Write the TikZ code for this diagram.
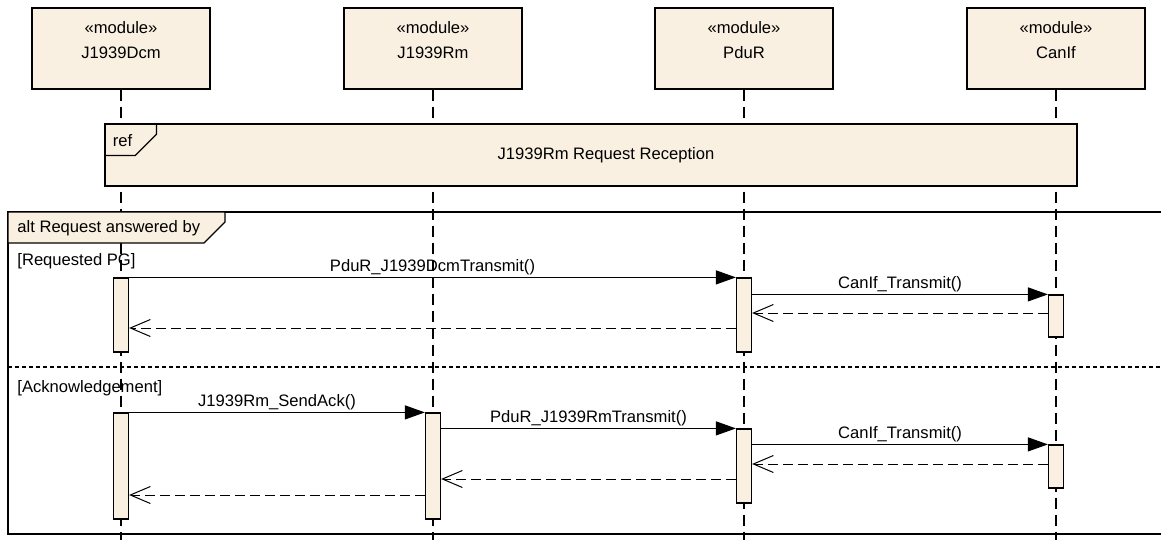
\documentclass[tikz,border=0pt]{standalone}
\usepackage{fontspec}
\setmainfont{Liberation Sans}
\usetikzlibrary{
    arrows.meta,
    positioning,
    calc
}
\definecolor{umlfill}{HTML}{FAF0E1}

\begin{document}
\begin{tikzpicture}[
    x=0.5pt, y=-0.5pt,
    font=\fontsize{8.3}{12.5}\selectfont,
    module/.style={rectangle, minimum width=89pt, minimum height=40.5pt,
                   draw=black, fill=umlfill, line width=0.6pt},
    modlabel/.style={align=center, inner sep=2pt},
    lifeline/.style={line width=0.6pt, dash pattern=on 5.5pt off 3pt},
    actbar/.style={rectangle, minimum width=7.5pt, inner sep=0pt,
                   draw=black, fill=umlfill, line width=0.6pt},
    frame/.style={draw=black, line width=0.6pt},
    separator/.style={line width=0.6pt, dash pattern=on 2pt off 1.5pt},
    guard/.style={anchor=west, inner sep=1pt},
    msg/.style={line width=0.5pt, -{Triangle[length=10pt, width=7pt]}},
    reply/.style={line width=0.5pt, dash pattern=on 5pt off 2.5pt,
                  -{Straight Barb[length=10pt, width=8.5pt]}},
    msglabel/.style={above, inner sep=1pt}
]

    \useasboundingbox (0,0) rectangle (1161,540);
    \coordinate (bottom) at (0,540);

    % Modules and lifelines
    \foreach \name/\txt/\x in {dcm/J1939Dcm/121, rm/J1939Rm/433, pdur/PduR/744, canif/CanIf/1056} {
        \node (\name) [module] at (\x,48.5) {};
        \node (\name lbl) [modlabel, below=4.6pt of \name.north] {«module»\\\txt};
        \draw [lifeline] (\name.south) -- (\name.south |- bottom);
    }

    % Ref frame
    \node (refbox) [frame, fill=umlfill, minimum width=486pt, minimum height=31pt, inner sep=0pt]
        at (591,155) {};
    \node (refttl) at ($(refbox.center)+(15,0)$) {J1939Rm Request Reception};
    \draw [frame] (refbox.north west) ++(52,0) -- ++(0,11) -- ++(-21,21) -- ++(-31,0);
    \node (reftag) [guard] at ($(refbox.north west)+(6,17)$) {ref};

    % Alt frame
    \draw [frame] (1163,212) -- (8,212) -- (8,534) -- (1163,534);
    \draw [frame, fill=umlfill] (8,212) -- (225,212) -- (225,222) -- (204,243) -- (8,243) -- cycle;
    \node (alttag) [guard] at (15,228) {alt Request answered by};
    \node (guard1) [guard] at (15,261) {[Requested PG]};
    \draw [separator] (8,367) -- (1163,367);
    \node (guard2) [guard] at (15,388) {[Acknowledgement]};

    % Activations
    \node (dcmAct1) [actbar, minimum height=37pt] at (dcm |- 0,315) {};
    \node (pdurAct1) [actbar, minimum height=37pt] at (pdur |- 0,315) {};
    \node (canifAct1) [actbar, minimum height=21pt] at (canif |- 0,316) {};
    \node (dcmAct2) [actbar, minimum height=53pt] at (dcm |- 0,466) {};
    \node (rmAct) [actbar, minimum height=53pt] at (rm |- 0,466) {};
    \node (pdurAct2) [actbar, minimum height=37pt] at (pdur |- 0,466) {};
    \node (canifAct2) [actbar, minimum height=21.5pt] at (canif |- 0,466.5) {};

    % Messages
    \draw [msg] (dcmAct1.north east) -- node [msglabel] {PduR\_J1939DcmTransmit()} (pdurAct1.north west);
    \draw [msg] (pdurAct1.east |- canifAct1.north) -- node [msglabel] {CanIf\_Transmit()} (canifAct1.north west);
    \draw [reply] (canifAct1.west |- 0,313) -- (pdurAct1.east |- 0,313);
    \draw [reply] (pdurAct1.west |- 0,328) -- (dcmAct1.east |- 0,328);

    \draw [msg] (dcmAct2.north east) -- node [msglabel] {J1939Rm\_SendAck()} (rmAct.north west);
    \draw [msg] (rmAct.east |- pdurAct2.north) -- node [msglabel] {PduR\_J1939RmTransmit()} (pdurAct2.north west);
    \draw [msg] (pdurAct2.east |- canifAct2.north) -- node [msglabel] {CanIf\_Transmit()} (canifAct2.north west);
    \draw [reply] (canifAct2.west |- 0,464) -- (pdurAct2.east |- 0,464);
    \draw [reply] (pdurAct2.west |- 0,479) -- (rmAct.east |- 0,479);
    \draw [reply] (rmAct.west |- 0,495) -- (dcmAct2.east |- 0,495);

\end{tikzpicture}
\end{document}
